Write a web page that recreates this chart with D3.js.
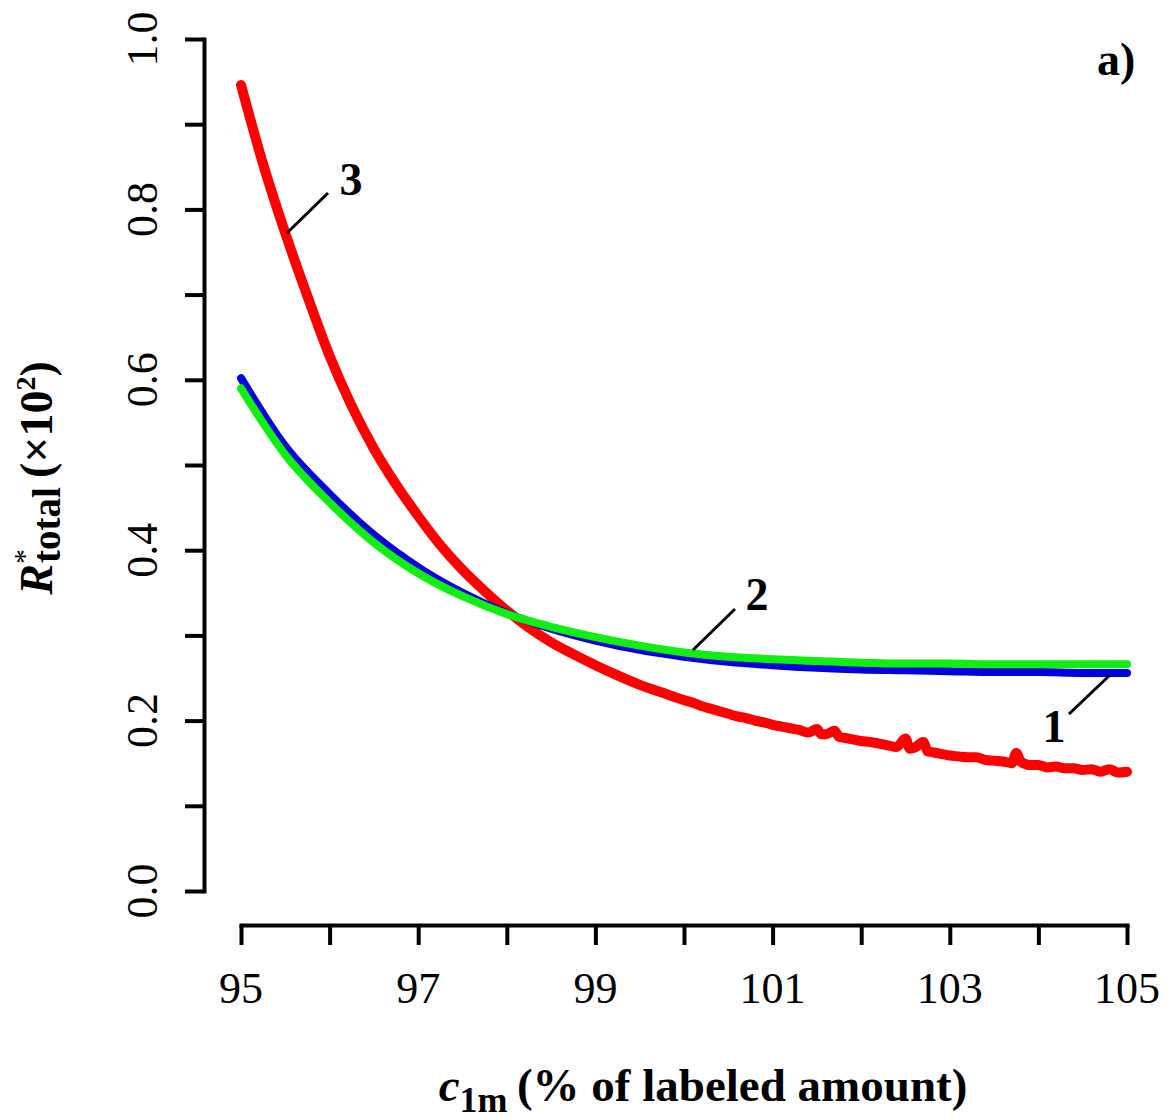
<!DOCTYPE html>
<html>
<head>
<meta charset="utf-8">
<script src="https://cdn.jsdelivr.net/npm/d3@7"></script>
<style>
    body { margin: 0; background: #fff; }
    #chart { width: 1167px; height: 1119px; }
    text { font-family: "Liberation Serif", "Times New Roman", serif; fill: #000; }
</style>
</head>
<body>
<div id="chart"></div>
<script>

/*
DATA
x = c1m (% of labeled amount), y = R*total (x10^2)
*/
const xTicks = [95, 96, 97, 98, 99, 100, 101, 102, 103, 104, 105];
const xTickLabels = [95, 97, 99, 101, 103, 105];
const yTicks = [0, 0.1, 0.2, 0.3, 0.4, 0.5, 0.6, 0.7, 0.8, 0.9, 1.0];
const yTickLabels = [0, 0.2, 0.4, 0.6, 0.8, 1.0];

// curve 1 (blue)
const blueX = [95, 95.5, 96, 96.5, 97, 97.5, 98, 98.5, 99, 99.5, 100, 100.5, 101, 101.5, 102, 102.5, 103, 103.5, 104, 104.5, 105];
const blueY = [0.602, 0.522, 0.466, 0.418, 0.380, 0.350, 0.326, 0.308, 0.294, 0.283, 0.275, 0.269, 0.265, 0.262, 0.260, 0.259, 0.258, 0.257, 0.257, 0.256, 0.256];

// curve 2 (green)
const greenX = [95, 95.5, 96, 96.5, 97, 97.5, 98, 98.5, 99, 99.5, 100, 100.5, 101, 101.5, 102, 102.5, 103, 103.5, 104, 104.5, 105];
const greenY = [0.590, 0.512, 0.456, 0.409, 0.373, 0.346, 0.325, 0.310, 0.298, 0.288, 0.280, 0.275, 0.272, 0.270, 0.268, 0.267, 0.267, 0.266, 0.266, 0.266, 0.266];

// curve 3 (red, noisy)
const redX = [95, 95.25, 95.5, 95.75, 96, 96.25, 96.5, 96.75, 97, 97.25, 97.5, 97.75, 98, 98.25, 98.5, 98.75, 99, 99.25, 99.5, 99.75, 100,
    100.1, 100.2, 100.3, 100.4, 100.5, 100.6, 100.7, 100.8, 100.9, 101, 101.1, 101.2, 101.3, 101.4, 101.5, 101.55, 101.6, 101.7, 101.75, 101.8, 101.9,
    102, 102.1, 102.2, 102.3, 102.4, 102.5, 102.55, 102.6, 102.7, 102.75, 102.8, 102.9, 103, 103.1, 103.2, 103.3, 103.4, 103.5, 103.6, 103.7,
    103.75, 103.8, 103.9, 104, 104.1, 104.2, 104.3, 104.4, 104.5, 104.6, 104.7, 104.8, 104.9, 105];
const redY = [0.946, 0.853, 0.772, 0.698, 0.628, 0.569, 0.519, 0.477, 0.440, 0.406, 0.377, 0.352, 0.329, 0.309, 0.292, 0.278, 0.265, 0.253, 0.242, 0.233, 0.224,
    0.221, 0.217, 0.214, 0.211, 0.208, 0.205, 0.203, 0.200, 0.198, 0.195, 0.193, 0.191, 0.189, 0.186, 0.190, 0.184, 0.184, 0.188, 0.181, 0.180, 0.178,
    0.176, 0.175, 0.173, 0.171, 0.169, 0.179, 0.167, 0.168, 0.175, 0.164, 0.163, 0.161, 0.159, 0.158, 0.157, 0.157, 0.154, 0.153, 0.152, 0.150,
    0.162, 0.152, 0.148, 0.148, 0.145, 0.146, 0.144, 0.144, 0.142, 0.143, 0.140, 0.143, 0.139, 0.140];

/*
SVG CANVAS
*/
const width = 1167;
const height = 1119;
const svg = d3.select("#chart")
    .append("svg")
    .attr("width", width)
    .attr("height", height);

/* SCALES */
const xScale = d3.scaleLinear().domain([95, 105]).range([241, 1127]);
const yScale = d3.scaleLinear().domain([0, 1]).range([891, 39]);

/* AXES (R style, detached from the plot region) */
const yAxis = svg.append("g")
    .attr("transform", "translate(204,0)")
    .call(d3.axisLeft(yScale).tickValues(yTicks).tickSize(19).tickSizeOuter(0).tickFormat(""));

const xAxis = svg.append("g")
    .attr("transform", "translate(0,925)")
    .call(d3.axisBottom(xScale).tickValues(xTicks).tickSize(20).tickSizeOuter(0).tickFormat(""));

[yAxis, xAxis].forEach(g => {
    g.select(".domain").attr("stroke", "#000").attr("stroke-width", 4).attr("stroke-linecap", "square");
    g.selectAll(".tick line").attr("stroke", "#000").attr("stroke-width", 4);
});

/* TICK LABELS */
svg.append("g")
    .selectAll("text")
    .data(yTickLabels)
    .enter()
    .append("text")
        .attr("transform", d => "translate(157," + yScale(d) + ") rotate(-90)")
        .attr("text-anchor", "middle")
        .attr("font-size", 44)
        .text(d => d3.format(".1f")(d));

svg.append("g")
    .selectAll("text")
    .data(xTickLabels)
    .enter()
    .append("text")
        .attr("x", d => xScale(d))
        .attr("y", 1003)
        .attr("text-anchor", "middle")
        .attr("font-size", 44)
        .text(d => d);

/* LINES */
const line = d3.line()
    .x(d => xScale(d.x))
    .y(d => yScale(d.y))
    .curve(d3.curveMonotoneX);

const series = [
    { name: "3", color: "#ff0000", width: 10, x: redX, y: redY },
    { name: "1", color: "#0000e0", width: 8, x: blueX, y: blueY },
    { name: "2", color: "#11ee11", width: 8, x: greenX, y: greenY }
];

series.forEach(s => {
    let pts = s.x.map((v, i) => ({ x: v, y: s.y[i] }));
    svg.append("path")
        .datum(pts)
        .attr("fill", "none")
        .attr("stroke", s.color)
        .attr("stroke-width", s.width)
        .attr("stroke-linecap", "round")
        .attr("stroke-linejoin", "round")
        .attr("d", line);
});

/* CURVE LABELS WITH LEADER LINES */
const callouts = [
    { label: "3", x1: 287, y1: 233, x2: 328, y2: 193, tx: 351, ty: 195 },
    { label: "2", x1: 693, y1: 650, x2: 735, y2: 609, tx: 757, ty: 610 },
    { label: "1", x1: 1069, y1: 714, x2: 1110, y2: 675, tx: 1054, ty: 742 }
];

callouts.forEach(c => {
    svg.append("line")
        .attr("x1", c.x1).attr("y1", c.y1)
        .attr("x2", c.x2).attr("y2", c.y2)
        .attr("stroke", "#000")
        .attr("stroke-width", 3);
    svg.append("text")
        .attr("x", c.tx)
        .attr("y", c.ty)
        .attr("text-anchor", "middle")
        .attr("font-size", 46)
        .attr("font-weight", "bold")
        .text(c.label);
});

/* PANEL LABEL */
svg.append("text")
    .attr("x", 1097)
    .attr("y", 75)
    .attr("font-size", 46)
    .attr("font-weight", "bold")
    .text("a)");

/* AXIS TITLES */
const yTitle = svg.append("text")
    .attr("transform", "translate(52,478) rotate(-90)")
    .attr("text-anchor", "middle")
    .attr("font-size", 46)
    .attr("font-weight", "bold");
yTitle.append("tspan").attr("font-style", "italic").text("R");
yTitle.append("tspan").attr("dy", -18).attr("font-size", 30).attr("font-weight", "normal").text("*");
yTitle.append("tspan").attr("dx", -14).attr("dy", 26).attr("font-size", 39).text("total");
yTitle.append("tspan").attr("dy", -8).text("\u2009(\u00d710");
yTitle.append("tspan").attr("dy", -17).attr("font-size", 28).text("2");
yTitle.append("tspan").attr("dy", 17).text(")");

const xTitle = svg.append("text")
    .attr("x", 703)
    .attr("y", 1101)
    .attr("text-anchor", "middle")
    .attr("font-size", 47)
    .attr("font-weight", "bold");
xTitle.append("tspan").attr("font-style", "italic").text("c");
xTitle.append("tspan").attr("dy", 11).attr("font-size", 36).text("1m");
xTitle.append("tspan").attr("dy", -11).text("\u2009(% of labeled amount)");

</script>
</body>
</html>
